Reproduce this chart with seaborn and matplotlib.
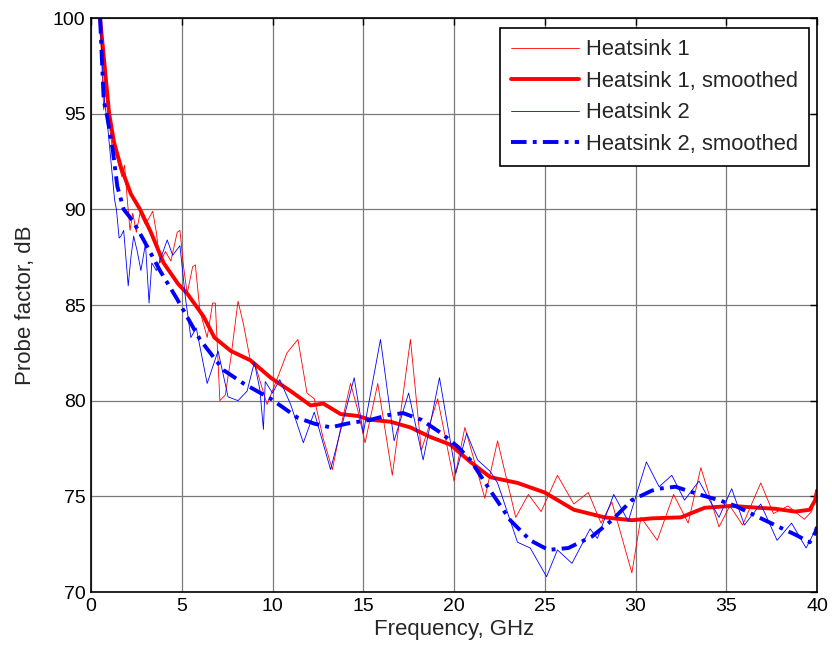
import matplotlib
matplotlib.use("Agg")
import matplotlib.pyplot as plt
import seaborn as sns
import pandas as pd

# ---- data ----
h1_raw_f = [0.5, 0.6, 0.7, 0.8, 1.0, 1.2, 1.4, 1.7, 1.85, 2.0, 2.15, 2.3, 2.5, 2.7, 3.0, 3.4, 3.6, 3.8,
            4.1, 4.4, 4.75, 4.9, 5.1, 5.3, 5.6, 5.75, 6.0, 6.4, 6.7, 6.85, 7.1, 7.4, 7.7, 8.1, 8.4, 8.8,
            9.1, 9.7, 10.2, 10.8, 11.4, 11.9, 12.3, 12.8, 13.3, 13.8, 14.3, 14.7, 15.1, 15.8, 16.6, 17.6,
            18.2, 19.1, 20.0, 20.6, 21.7, 22.4, 23.4, 24.1, 24.8, 25.7, 26.6, 27.4, 28.1, 28.7, 29.8,
            30.3, 31.2, 32.1, 32.9, 33.6, 34.6, 35.2, 35.9, 36.9, 37.6, 38.4, 39.3, 39.7, 40.0]
h1_raw_db = [100.0, 97.5, 95.2, 96.4, 94.5, 93.0, 92.8, 91.7, 92.3, 90.5, 88.9, 89.8, 88.8, 89.8, 89.2,
             89.9, 88.8, 87.2, 87.8, 87.3, 88.8, 88.9, 87.0, 85.6, 87.0, 87.1, 84.7, 83.3, 85.1, 85.1,
             80.0, 80.3, 82.2, 85.2, 84.0, 82.0, 81.7, 79.8, 81.0, 82.5, 83.2, 80.4, 80.1, 78.0, 76.4,
             78.8, 80.9, 79.5, 77.8, 80.9, 76.1, 83.2, 77.4, 80.1, 75.8, 78.6, 74.9, 77.9, 73.9, 75.1,
             74.2, 76.1, 74.6, 75.2, 73.6, 74.7, 71.0, 73.9, 72.7, 75.1, 73.6, 76.5, 73.4, 74.5, 73.5,
             75.7, 74.1, 74.5, 73.8, 74.2, 75.2]

h1_smooth_f = [0.5, 1.0, 1.27, 1.65, 2.2, 2.7, 3.3, 4.0, 4.8, 5.3, 6.2, 6.8, 7.7, 8.8, 9.9, 11.0, 12.1,
               12.8, 13.75, 14.7, 15.4, 16.5, 17.6, 18.7, 19.8, 20.9, 22.0, 23.5, 25.0, 26.6, 28.3,
               29.8, 30.9, 32.5, 33.8, 35.3, 36.8, 37.7, 38.8, 39.6, 39.9, 40.0]
h1_smooth_db = [100.0, 95.0, 93.5, 92.2, 90.8, 90.0, 88.8, 87.2, 86.1, 85.6, 84.4, 83.3, 82.6, 82.1,
                81.2, 80.5, 79.75, 79.85, 79.3, 79.2, 79.0, 78.9, 78.6, 78.1, 77.7, 76.8, 76.0, 75.7,
                75.2, 74.3, 73.9, 73.75, 73.85, 73.9, 74.4, 74.5, 74.4, 74.35, 74.2, 74.3, 74.8, 75.3]

h2_raw_f = [0.5, 0.7, 0.9, 1.1, 1.3, 1.4, 1.55, 1.65, 1.8, 2.05, 2.2, 2.35, 2.55, 2.75, 3.0, 3.2, 3.35,
            3.6, 3.9, 4.2, 4.5, 4.9, 5.2, 5.5, 5.8, 6.4, 7.0, 7.3, 7.55, 8.1, 8.6, 9.0, 9.3, 9.5, 9.6,
            10.0, 10.4, 11.0, 11.7, 12.3, 13.2, 14.5, 15.0, 15.95, 16.7, 17.5, 18.3, 19.2, 20.1, 20.7,
            21.3, 22.0, 22.4, 23.5, 24.2, 25.1, 25.7, 26.5, 27.5, 27.9, 28.8, 29.6, 30.6, 31.3, 32.0,
            32.7, 33.5, 34.6, 35.3, 36.0, 36.9, 37.8, 38.6, 39.4, 40.0]
h2_raw_db = [100.0, 96.0, 94.5, 92.5, 90.5, 90.0, 88.5, 88.6, 88.9, 86.0, 87.5, 88.6, 87.8, 86.8, 88.2,
             85.1, 87.2, 86.8, 87.6, 88.4, 87.6, 88.1, 85.4, 83.3, 83.8, 80.9, 82.6, 81.3, 80.2, 80.0,
             80.5, 82.0, 80.6, 78.5, 81.0, 80.4, 81.1, 79.8, 77.8, 79.4, 76.4, 81.2, 78.3, 83.2, 77.9,
             80.4, 76.9, 81.2, 76.2, 78.3, 76.9, 76.3, 75.7, 72.6, 72.3, 70.8, 72.2, 71.5, 73.3, 72.8,
             75.1, 73.7, 76.8, 75.5, 76.1, 74.8, 75.8, 73.9, 75.4, 73.5, 74.6, 72.7, 73.6, 72.3, 73.4]

h2_smooth_f = [0.5, 0.7, 0.9, 1.2, 1.45, 1.8, 2.3, 2.9, 3.8, 4.75, 6.0, 7.3, 8.4, 9.9, 11.4, 12.3,
               13.2, 14.1, 15.4, 16.4, 17.2, 18.2, 19.3, 20.2, 20.9, 22.0, 23.1, 24.2, 25.2, 26.3,
               27.6, 28.7, 29.8, 30.9, 31.3, 32.2, 33.5, 34.6, 35.5, 36.8, 37.9, 38.8, 39.6, 39.9, 40.0]
h2_smooth_db = [100.0, 95.7, 94.8, 93.1, 91.2, 90.0, 89.4, 88.4, 86.8, 85.3, 83.2, 81.6, 80.9, 80.1,
                79.1, 78.8, 78.6, 78.8, 79.0, 79.25, 79.35, 79.0, 78.3, 77.6, 76.9, 75.3, 73.75, 72.7,
                72.2, 72.3, 72.9, 73.75, 74.8, 75.3, 75.4, 75.5, 75.1, 74.8, 74.5, 73.9, 73.4, 73.0,
                72.6, 73.1, 73.4]

labels = ["Heatsink 1", "Heatsink 1, smoothed", "Heatsink 2", "Heatsink 2, smoothed"]
x_ticks = [0, 5, 10, 15, 20, 25, 30, 35, 40]
y_ticks = [70, 75, 80, 85, 90, 95, 100]

# ---- style ----
sns.set_style("white")
plt.rcParams["font.family"] = ["Liberation Sans", "DejaVu Sans"]

fig = plt.figure(figsize=(8.32, 6.54), dpi=100)
ax = fig.add_axes([91 / 832, 1 - 592 / 654, (817 - 91) / 832, (592 - 18) / 654])

series = [
    (h1_raw_f, h1_raw_db, labels[0], dict(color="#FF0000", linewidth=0.6, linestyle="-")),
    (h1_smooth_f, h1_smooth_db, labels[1], dict(color="#FF0000", linewidth=2.8, linestyle="-")),
    (h2_raw_f, h2_raw_db, labels[2], dict(color="#0000FF", linewidth=0.6, linestyle="-")),
    (h2_smooth_f, h2_smooth_db, labels[3], dict(color="#0000FF", linewidth=2.8,
                                                 linestyle=(0, (4, 1.6, 1, 1.6)))),
]
for f, db, lab, st in series:
    df = pd.DataFrame({"Frequency": f, "Probe": db})
    sns.lineplot(data=df, x="Frequency", y="Probe", ax=ax, sort=False, estimator=None,
                 label=lab, **st)

ax.set_xlim(0, 40)
ax.set_ylim(70, 100)
ax.set_xticks(x_ticks)
ax.set_yticks(y_ticks)
ax.grid(True, color="#7a7a7a", linewidth=0.9)
ax.set_axisbelow(True)
for s in ax.spines.values():
    s.set_visible(True)
    s.set_color("black")
    s.set_linewidth(1.2)
ax.tick_params(direction="in", length=5, width=1, top=True, right=True,
               labelsize=14, colors="black", pad=4)
ax.set_xlabel("Frequency, GHz", fontsize=16, labelpad=3)
ax.set_ylabel("Probe factor, dB", fontsize=16, labelpad=12)

leg = ax.legend(loc="upper right", fontsize=15.8, frameon=True, fancybox=False, framealpha=1,
                edgecolor="black", handlelength=3.1, handletextpad=0.3, borderpad=0.5,
                labelspacing=0.48, bbox_to_anchor=(0.989, 0.982), borderaxespad=0)
leg.get_frame().set_linewidth(1.2)

fig.savefig("out.png", dpi=100)
